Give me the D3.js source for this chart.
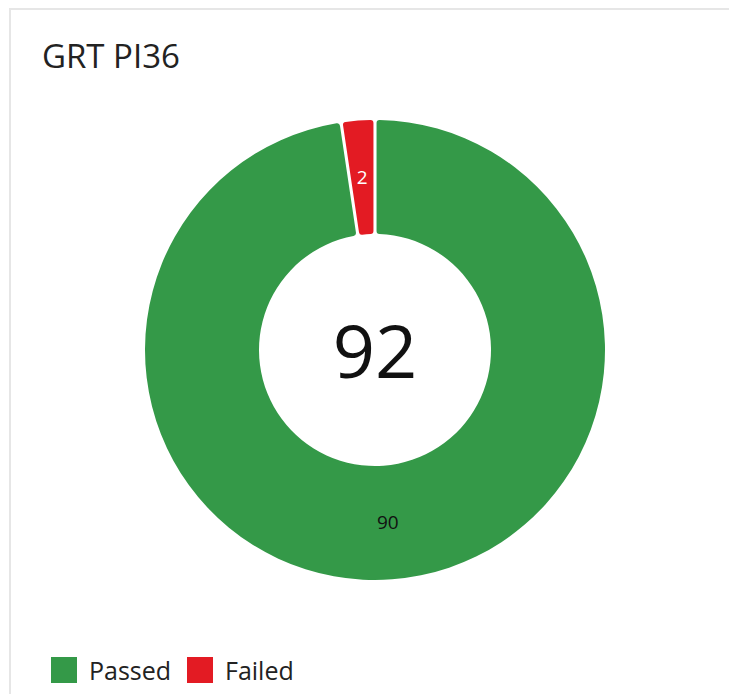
<!DOCTYPE html>
<html>
<head>
<meta charset="utf-8">
<script src="https://cdn.jsdelivr.net/npm/d3@7"></script>
<style>
  body { margin: 0; background: #fff; }
  svg { display: block; font-family: "Segoe UI", "Open Sans", sans-serif; }
</style>
</head>
<body>
<div id="app"></div>
<script>
const title = 'GRT PI36';
const categories = ['Passed', 'Failed'];
const values = [90, 2];
const colors = ['#349948', '#e31b23'];
const labelColors = ['#111', '#fff'];

const W = 729, H = 694;
const svg = d3.select('#app').append('svg')
  .attr('width', W)
  .attr('height', H);

// card border
svg.append('rect')
  .attr('x', 10).attr('y', 9)
  .attr('width', W + 20).attr('height', H + 20)
  .attr('fill', '#fff')
  .attr('stroke', '#e6e6e6')
  .attr('stroke-width', 2);

svg.append('text')
  .attr('x', 42).attr('y', 68)
  .attr('font-size', 33)
  .attr('fill', '#222')
  .text(title);

const cx = 375, cy = 350;
const outerR = 230, innerR = 116;

const data = categories.map((c, i) => ({ key: c, value: values[i], i }));

const pie = d3.pie()
  .sort(null)
  .value(d => d.value)
  .padAngle(0.012);

const arc = d3.arc()
  .innerRadius(innerR)
  .outerRadius(outerR)
  .cornerRadius(3);

const g = svg.append('g')
  .attr('transform', `translate(${cx},${cy})`);

const slices = g.selectAll('.slice')
  .data(pie(data))
  .enter().append('g')
    .attr('class', 'slice');

slices.append('path')
  .attr('d', arc)
  .attr('fill', d => colors[d.data.i]);

slices.append('text')
  .attr('transform', d => `translate(${arc.centroid(d)})`)
  .attr('text-anchor', 'middle')
  .attr('dy', '0.35em')
  .attr('font-size', 19)
  .attr('fill', d => labelColors[d.data.i])
  .text(d => d.data.value);

g.append('text')
  .attr('text-anchor', 'middle')
  .attr('y', 28)
  .attr('font-size', 74)
  .attr('fill', '#111')
  .text(d3.sum(values));

// legend
const legend = svg.append('g')
  .attr('transform', 'translate(51,657)');

const legX = [0, 136];
const item = legend.selectAll('.legend')
  .data(data)
  .enter().append('g')
    .attr('class', 'legend')
    .attr('transform', d => `translate(${legX[d.i]},0)`);

item.append('rect')
  .attr('width', 26)
  .attr('height', 26)
  .attr('fill', d => colors[d.i]);

item.append('text')
  .attr('x', 38)
  .attr('y', 23)
  .attr('font-size', 25)
  .attr('fill', '#222')
  .text(d => d.key);
</script>
</body>
</html>
